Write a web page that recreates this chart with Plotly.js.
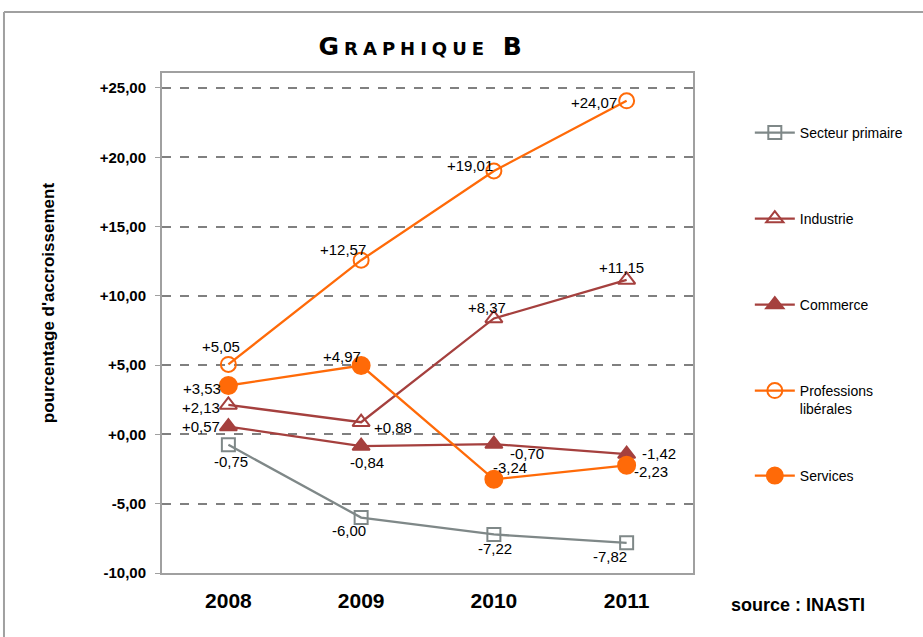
<!DOCTYPE html>
<html>
<head>
<meta charset="utf-8">
<script src="https://cdn.plot.ly/plotly-3.0.1.min.js"></script>
<style>
  body { margin: 0; background: #fff; }
  #chart { width: 923px; height: 637px; }
  #chart .gtitle { letter-spacing: 5px; }
</style>
</head>
<body>
<div id="chart"></div>
<script>
// years on the x axis
var years = ['2008', '2009', '2010', '2011']

// growth rates (%)
var primaire = [-0.75, -6.00, -7.22, -7.82]
var industrie = [2.13, 0.88, 8.37, 11.15]
var commerce = [0.57, -0.84, -0.70, -1.42]
var professions = [5.05, 12.57, 19.01, 24.07]
var services = [3.53, 4.97, -3.24, -2.23]

var yTicks = [-10, -5, 0, 5, 10, 15, 20, 25]

function fmt(v) {
    return (v >= 0 ? '+' : '') + v.toFixed(2).replace('.', ',')
}

var fontMain = 'Liberation Sans, Arial, sans-serif'
var grey = '#7f8888'
var red = '#a5403e'
var orange = '#ff6a08'

// pixel offsets of the value labels, [dx, dy] (dy positive = down)
var offPrimaire = [[3, 17], [-12, 13], [1, 14], [-17, 14]]
var offIndustrie = [[-27, 3], [32, 5], [-7, -11], [-5, -12]]
var offCommerce = [[-27, 0], [6, 16], [33, 9], [32, -1]]
var offProfessions = [[-7, -18], [-18, -11], [-24, -5], [-33, 2]]
var offServices = [[-26, 3], [-19, -9], [16, -12], [24, 6]]

var annotations = []

function serie(name, ys, color, symbol, size, offs, legendId) {
    ys.forEach(function (v, i) {
        // category axis: annotation x is the category index
        annotations.push({
            x: i, y: v, xref: 'x', yref: 'y',
            text: fmt(v), showarrow: false,
            xshift: offs[i][0], yshift: -offs[i][1],
            font: {family: fontMain, size: 15, color: '#000'}
        })
    })
    return {
        x: years,
        y: ys,
        name: name,
        legend: legendId,
        type: 'scatter',
        mode: 'lines+markers',
        line: {color: color, width: 2.3},
        marker: {symbol: symbol, size: size, color: color, line: {color: color, width: 2}},
        cliponaxis: false,
        hoverinfo: 'skip'
    }
}

var data = [
    serie('Secteur primaire', primaire, grey, 'square-open', 13, offPrimaire, 'legend'),
    serie('Industrie', industrie, red, 'triangle-up-open', 15, offIndustrie, 'legend2'),
    serie('Commerce', commerce, red, 'triangle-up', 15, offCommerce, 'legend3'),
    serie('Professions<br>libérales', professions, orange, 'circle-open', 15, offProfessions, 'legend4'),
    serie('Services', services, orange, 'circle', 17, offServices, 'legend5')
]

function legendAt(y) {
    return {
        x: 1.107, xanchor: 'left',
        y: y, yanchor: 'top',
        itemwidth: 40,
        valign: 'top',
        font: {family: fontMain, size: 14, color: '#000'},
        bgcolor: 'rgba(0,0,0,0)'
    }
}

annotations.push(
    {
        text: "<b>pourcentage d'accroissement</b>",
        textangle: -90,
        xref: 'paper', yref: 'paper',
        x: -0.236, y: 0.54,
        showarrow: false,
        font: {family: fontMain, size: 17, color: '#000'}
    },
    {
        text: '<b>source : INASTI</b>',
        xref: 'paper', yref: 'paper',
        x: 1.067, y: -0.088,
        xanchor: 'left',
        showarrow: false,
        font: {family: fontMain, size: 18, color: '#000'}
    }
)

var layout = {
    width: 923,
    height: 637,
    margin: {l: 162, r: 230, t: 73, b: 64},
    paper_bgcolor: '#fff',
    plot_bgcolor: '#fff',
    showlegend: true,
    title: {
        text: '<b>Graphique B</b>',
        font: {family: 'DejaVu Sans, sans-serif', size: 25, color: '#000', variant: 'small-caps'},
        x: 0.458,
        xanchor: 'center',
        y: 0.927,
        yanchor: 'middle'
    },
    xaxis: {
        type: 'category',
        range: [-0.5, 3.5],
        showgrid: false,
        showline: true,
        mirror: true,
        linecolor: '#a0a0a0',
        linewidth: 2,
        ticks: '',
        tickfont: {family: fontMain, size: 21, color: '#000', weight: 'bold'},
        ticklabelstandoff: 8,
        fixedrange: true
    },
    yaxis: {
        range: [-10, 26.08],
        tickvals: yTicks,
        ticktext: yTicks.map(fmt),
        showgrid: true,
        gridcolor: '#808080',
        gridwidth: 2,
        griddash: 'dash',
        zeroline: false,
        showline: true,
        mirror: true,
        linecolor: '#a0a0a0',
        linewidth: 2,
        ticks: 'outside',
        ticklen: 5,
        tickcolor: '#a0a0a0',
        tickfont: {family: fontMain, size: 15, color: '#000', weight: 'bold'},
        ticklabelstandoff: 6,
        fixedrange: true
    },
    legend: legendAt(0.912),
    legend2: legendAt(0.740),
    legend3: legendAt(0.568),
    legend4: legendAt(0.396),
    legend5: legendAt(0.226),
    annotations: annotations,
    shapes: [
        // outer frame of the original image
        {type: 'line', xref: 'paper', yref: 'paper', x0: -0.2976, x1: 1.6, y0: 1.122, y1: 1.122,
         line: {color: '#a0a0a0', width: 2}},
        {type: 'line', xref: 'paper', yref: 'paper', x0: -0.2976, x1: -0.2976, y0: 1.122, y1: -0.2,
         line: {color: '#a0a0a0', width: 2}}
    ]
}

Plotly.newPlot('chart', data, layout, {displayModeBar: false, staticPlot: true})
</script>
</body>
</html>
